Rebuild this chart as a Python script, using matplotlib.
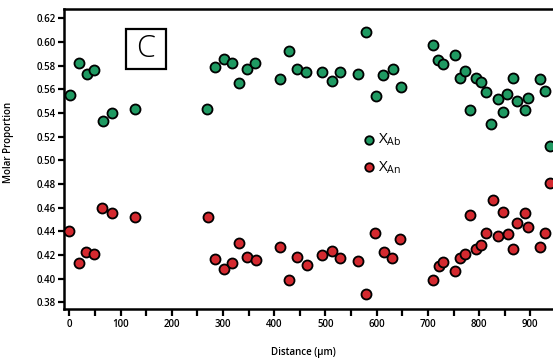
import matplotlib
matplotlib.use("Agg")
import matplotlib.pyplot as plt
from matplotlib.patches import Rectangle

# distance (um) and molar proportions
ab_dist = [1, 19, 35, 48, 65, 83, 129, 268, 285, 301, 317, 332, 347, 363,
           412, 428, 444, 462, 494, 512, 529, 563, 580, 598, 613, 631, 648,
           710, 720, 730, 753, 762, 773, 783, 794, 804, 814, 824, 836, 846,
           855, 866, 874, 889, 895, 918, 929, 939]
ab_val = [0.555, 0.5825, 0.573, 0.576, 0.5335, 0.540, 0.543, 0.5436, 0.579,
          0.5856, 0.582, 0.565, 0.577, 0.5825, 0.569, 0.592, 0.577, 0.575,
          0.575, 0.567, 0.575, 0.573, 0.6087, 0.5546, 0.5724, 0.577, 0.5617,
          0.5977, 0.5845, 0.5814, 0.5893, 0.5695, 0.5757, 0.5425, 0.570,
          0.5664, 0.5575, 0.5304, 0.5518, 0.5408, 0.5558, 0.5693, 0.5498,
          0.5422, 0.5529, 0.5689, 0.5588, 0.5123]

an_dist = [0, 18, 33, 48, 64, 83, 129, 270, 285, 301, 318, 332, 347, 364,
           412, 428, 444, 463, 494, 512, 528, 564, 580, 597, 614, 630, 646,
           709, 721, 729, 753, 763, 773, 783, 793, 803, 814, 827, 836, 846,
           857, 867, 874, 889, 895, 918, 928, 939]
an_val = [0.440, 0.4134, 0.4222, 0.421, 0.460, 0.4552, 0.452, 0.4518, 0.4163,
          0.4083, 0.4129, 0.430, 0.4185, 0.4154, 0.4264, 0.3988, 0.418,
          0.4117, 0.4197, 0.4233, 0.4171, 0.4148, 0.3867, 0.4388, 0.4225,
          0.4174, 0.4332, 0.3988, 0.4106, 0.4143, 0.4067, 0.4174, 0.4205,
          0.4535, 0.425, 0.4281, 0.4385, 0.4662, 0.436, 0.4563, 0.4377,
          0.425, 0.4467, 0.4557, 0.4439, 0.4267, 0.4385, 0.4805]

x_ticks = [0, 100, 200, 300, 400, 500, 600, 700, 800, 900]
y_ticks = [0.38, 0.40, 0.42, 0.44, 0.46, 0.48, 0.50, 0.52, 0.54, 0.56, 0.58, 0.60, 0.62]

GREEN = "#1f9a62"
RED = "#d4292f"

plt.rcParams["font.family"] = ["Open Sans", "DejaVu Sans"]
plt.rcParams["mathtext.fontset"] = "custom"
plt.rcParams["mathtext.rm"] = "Open Sans"

fig = plt.figure(figsize=(5.53, 3.6), dpi=100)
# axes runs past the right edge of the figure, like the cropped original
ax_left, ax_bottom, ax_w, ax_h = 64.3, 50.7, 535.7, 300.3
ax = fig.add_axes([ax_left / 553, ax_bottom / 360, ax_w / 553, ax_h / 360])


def px_to_axes(px, py):
    """pixel position (from top-left of image) to axes fraction"""
    return (px - ax_left) / ax_w, (360 - py - ax_bottom) / ax_h


ax.scatter(ab_dist, ab_val, s=52, c=GREEN, edgecolors="black", linewidths=1.3,
           zorder=3, clip_on=False, label=r"X$_{\mathrm{Ab}}$")
ax.scatter(an_dist, an_val, s=52, c=RED, edgecolors="black", linewidths=1.3,
           zorder=3, clip_on=False, label=r"X$_{\mathrm{An}}$")

ax.set_xlim(-10, 1036)
ax.set_ylim(0.3741, 0.6279)

ax.set_xticks(x_ticks)
ax.set_xticks(range(50, 1000, 100), minor=True)
ax.set_yticks(y_ticks)
ax.set_yticklabels([f"{v:.2f}" for v in y_ticks])

for side in ["left", "bottom", "top", "right"]:
    ax.spines[side].set_linewidth(1.8)

ax.tick_params(axis="both", which="both", direction="out", width=1.6,
               labelsize=7, pad=2)
ax.tick_params(axis="x", which="both", length=5)
ax.tick_params(axis="y", length=4)
for lab in ax.get_xticklabels() + ax.get_yticklabels():
    lab.set_fontweight("semibold")

ax.set_xlabel("Distance (µm)", fontsize=7, fontweight="semibold")
ax.xaxis.set_label_coords(0.4456, -0.125)
ax.set_ylabel("Molar Proportion", fontsize=7, fontweight="semibold")
ax.yaxis.set_label_coords(-0.094, 0.554)

# panel letter in a box
bx0, by0 = px_to_axes(126, 68.7)
bx1, by1 = px_to_axes(166, 28.7)
ax.add_patch(Rectangle((bx0, by0), bx1 - bx0, by1 - by0, transform=ax.transAxes,
                       facecolor="white", edgecolor="black", linewidth=1.6,
                       zorder=2))
cx, cy = px_to_axes(146, 48.7)
ax.text(cx, cy, "C", transform=ax.transAxes, fontsize=22, fontweight="light",
        ha="center", va="center", zorder=3)

lx, ly = px_to_axes(354, 124)
leg = ax.legend(loc="upper left", bbox_to_anchor=(lx, ly),
                frameon=False, fontsize=11, markerscale=0.85, handletextpad=0.1,
                labelspacing=0.7, borderpad=0, handlelength=1.0)

fig.savefig("out.png", dpi=100)
